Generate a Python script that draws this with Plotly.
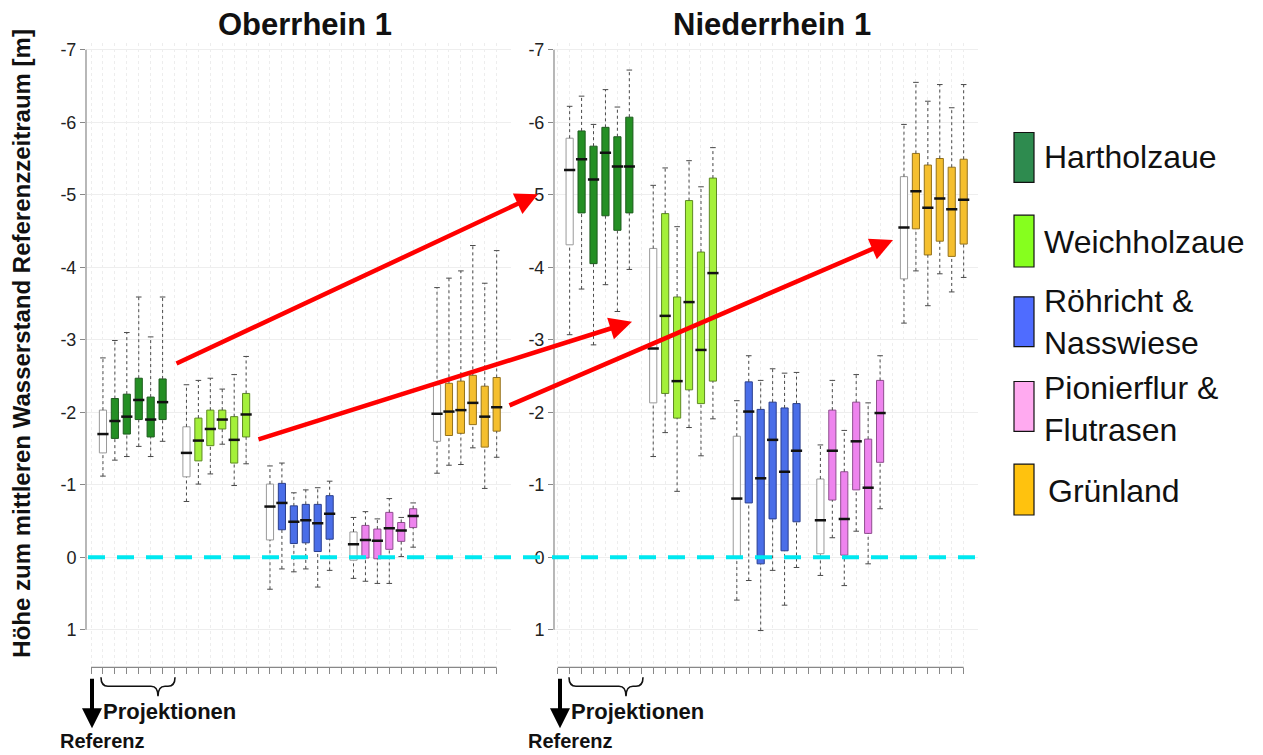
import plotly.graph_objects as go

W, H = 1263, 755
OFF = 8  # page body margin of the browser
FONT = "Liberation Sans, Arial, sans-serif"

# ---------------- DATA ----------------
# each box: [lower whisker, q1, median, q3, upper whisker]; first box of each group = Referenz
habitats = ["Hartholzaue", "Weichholzaue", "Röhricht & Nasswiese", "Pionierflur & Flutrasen", "Grünland"]
group_slots = [[1, 2, 3, 4, 5, 6], [8, 9, 10, 11, 12, 13], [15, 16, 17, 18, 19, 20],
               [22, 23, 24, 25, 26, 27], [29, 30, 31, 32, 33, 34]]

ober_hartholz = [[-1.12, -1.44, -1.70, -2.03, -2.75],
                 [-1.34, -1.64, -1.88, -2.19, -2.99],
                 [-1.39, -1.70, -1.94, -2.25, -3.10],
                 [-1.53, -1.90, -2.17, -2.47, -3.59],
                 [-1.39, -1.66, -1.90, -2.21, -3.04],
                 [-1.60, -1.90, -2.14, -2.46, -3.59]]
ober_weichholz = [[-0.77, -1.11, -1.44, -1.80, -2.38],
                  [-1.01, -1.33, -1.61, -1.92, -2.44],
                  [-1.15, -1.54, -1.77, -2.03, -2.47],
                  [-1.56, -1.77, -1.90, -2.03, -2.32],
                  [-0.99, -1.30, -1.62, -1.94, -2.52],
                  [-1.29, -1.66, -1.97, -2.26, -2.77]]
ober_roehricht = [[0.44, -0.24, -0.70, -1.01, -1.26],
                  [0.16, -0.38, -0.75, -1.02, -1.30],
                  [0.20, -0.19, -0.49, -0.71, -0.89],
                  [0.16, -0.20, -0.51, -0.73, -0.93],
                  [0.41, -0.08, -0.47, -0.73, -0.96],
                  [0.18, -0.25, -0.60, -0.85, -1.05]]
ober_pionier = [[0.29, 0.04, -0.18, -0.35, -0.55],
                [0.33, 0.01, -0.24, -0.44, -0.63],
                [0.36, 0.02, -0.23, -0.39, -0.53],
                [0.36, -0.11, -0.40, -0.62, -0.81],
                [-0.01, -0.22, -0.37, -0.48, -0.55],
                [-0.14, -0.41, -0.57, -0.67, -0.75]]
ober_gruenland = [[-1.16, -1.60, -1.98, -2.38, -3.72],
                  [-1.27, -1.68, -2.01, -2.40, -3.85],
                  [-1.28, -1.71, -2.03, -2.43, -3.95],
                  [-1.51, -1.83, -2.13, -2.51, -4.30],
                  [-0.95, -1.52, -1.94, -2.36, -3.78],
                  [-1.38, -1.74, -2.07, -2.48, -4.23]]

nieder_hartholz = [[-3.07, -4.31, -5.34, -5.78, -6.22],
                   [-3.70, -4.75, -5.49, -5.88, -6.36],
                   [-2.93, -4.05, -5.21, -5.67, -5.97],
                   [-3.76, -4.71, -5.58, -5.93, -6.45],
                   [-3.39, -4.51, -5.39, -5.80, -6.21],
                   [-3.97, -4.75, -5.39, -6.07, -6.72]]
nieder_weichholz = [[-1.39, -2.13, -2.88, -4.26, -5.13],
                    [-1.72, -2.26, -3.33, -4.74, -5.37],
                    [-0.91, -1.92, -2.43, -3.59, -4.56],
                    [-1.79, -2.31, -3.52, -4.92, -5.47],
                    [-1.40, -2.12, -2.86, -4.21, -5.11],
                    [-1.91, -2.43, -3.92, -5.23, -5.65]]
nieder_roehricht = [[0.59, 0.00, -0.81, -1.67, -2.16],
                    [0.32, -0.75, -2.01, -2.42, -2.78],
                    [1.01, 0.09, -1.09, -2.04, -2.44],
                    [0.18, -0.53, -1.62, -2.14, -2.60],
                    [0.66, -0.09, -1.18, -2.06, -2.54],
                    [0.14, -0.49, -1.47, -2.12, -2.55]]
nieder_pionier = [[0.25, -0.05, -0.51, -1.08, -1.55],
                  [-0.27, -0.79, -1.47, -2.03, -2.44],
                  [0.39, -0.03, -0.53, -1.18, -1.75],
                  [-0.36, -0.93, -1.60, -2.14, -2.52],
                  [0.09, -0.33, -0.96, -1.63, -2.13],
                  [-0.67, -1.31, -1.99, -2.44, -2.78]]
nieder_gruenland = [[-3.23, -3.84, -4.55, -5.25, -5.97],
                    [-3.95, -4.53, -5.05, -5.57, -6.55],
                    [-3.47, -4.17, -4.82, -5.41, -6.29],
                    [-3.91, -4.36, -4.95, -5.50, -6.52],
                    [-3.66, -4.15, -4.80, -5.38, -6.20],
                    [-3.86, -4.32, -4.93, -5.49, -6.52]]

panels = [("Oberrhein 1", [ober_hartholz, ober_weichholz, ober_roehricht, ober_pionier, ober_gruenland]),
          ("Niederrhein 1", [nieder_hartholz, nieder_weichholz, nieder_roehricht, nieder_pionier, nieder_gruenland])]

y_tick_vals = [-7, -6, -5, -4, -3, -2, -1, 0, 1]
y_tick_text = ["-7", "-6", "-5", "-4", "-3", "-2", "-1", "0", "1"]

# ---------------- STYLE ----------------
fill_cols = ["#248f24", "#a4f03a", "#4a6ee8", "#ee84ee", "#f5bf2e"]
line_cols = ["#1d5c1d", "#5e8a22", "#2a3f8f", "#8f4f8f", "#94721c"]
legend_cols = ["#2e8b4f", "#86ff1e", "#4f6cff", "#ffaaf0", "#ffc20e"]
ref_fill, ref_line = "#ffffff", "#9a9a9a"


def px_x(p):
    return (p - OFF) / W


def px_y(p):
    return 1 - (p - OFF) / H


y_range = [(667 - 556.5) / 72.8, (40 - 556.5) / 72.8]
axis_ids = [("x", "y"), ("x2", "y2")]
x_domains = [(86, 511), (554, 978)]
x_ranges = [[-0.42, 35.2], [-0.31, 35.2]]

fig = go.Figure()

for (title, groups), (xa, ya) in zip(panels, axis_ids):
    for gi, (slots, boxes) in enumerate(zip(group_slots, groups)):
        # dotted whiskers
        wx, wy, cx, cy = [], [], [], []
        for s, (lo, q1, med, q3, hi) in zip(slots, boxes):
            wx += [s, s, None, s, s, None]
            wy += [lo, q1, None, q3, hi, None]
            cx += [s, s]
            cy += [lo, hi]
        fig.add_trace(go.Scatter(x=wx, y=wy, mode="lines", xaxis=xa, yaxis=ya,
                                 line=dict(color="#4a4a4a", width=1, dash="dot"),
                                 showlegend=False, hoverinfo="skip"))
        fig.add_trace(go.Scatter(x=cx, y=cy, mode="markers", xaxis=xa, yaxis=ya,
                                 marker=dict(symbol="line-ew", size=4, line=dict(color="#4a4a4a", width=1)),
                                 showlegend=False, hoverinfo="skip"))
        # boxes (q1..q3): reference white, projections coloured
        fcs = [ref_fill] + [fill_cols[gi]] * (len(slots) - 1)
        lcs = [ref_line] + [line_cols[gi]] * (len(slots) - 1)
        fig.add_trace(go.Bar(x=slots, base=[b[1] for b in boxes], y=[b[3] - b[1] for b in boxes],
                             width=0.6, xaxis=xa, yaxis=ya,
                             marker=dict(color=fcs, line=dict(color=lcs, width=1)),
                             showlegend=False, hoverinfo="skip"))
        # medians
        fig.add_trace(go.Scatter(x=slots, y=[b[2] for b in boxes], mode="markers", xaxis=xa, yaxis=ya,
                                 marker=dict(symbol="line-ew", size=8, line=dict(color="#111111", width=2.5)),
                                 showlegend=False, hoverinfo="skip"))

layout = dict(
    width=W, height=H, margin=dict(l=0, r=0, t=0, b=0),
    paper_bgcolor="white", plot_bgcolor="white",
    barmode="overlay", showlegend=False,
    font=dict(family=FONT, color="#222222"),
)
for i, ((xa, ya), dom, xr) in enumerate(zip(axis_ids, x_domains, x_ranges)):
    xkey = "xaxis" if i == 0 else "xaxis2"
    ykey = "yaxis" if i == 0 else "yaxis2"
    layout[xkey] = dict(domain=[px_x(dom[0]), px_x(dom[1])], range=xr, anchor=ya,
                        tickvals=list(range(0, 35)), showticklabels=False,
                        ticks="outside", ticklen=6, tickcolor="#888888",
                        showgrid=True, gridcolor="#ededed", griddash="dot", gridwidth=1,
                        zeroline=False, showline=False, fixedrange=True)
    layout[ykey] = dict(domain=[px_y(667), px_y(40)], range=y_range, anchor=xa,
                        tickvals=y_tick_vals, ticktext=y_tick_text,
                        ticks="outside", ticklen=5, tickcolor="#888888",
                        tickfont=dict(size=18, color="#222222", family=FONT),
                        showgrid=True, gridcolor="#eeeeee", gridwidth=1,
                        zeroline=False, showline=False, fixedrange=True)
fig.update_layout(**layout)

shapes = []
# R-style axis lines
for (xa, ya) in axis_ids:
    shapes.append(dict(type="line", xref=f"{xa} domain", yref=ya, x0=0, x1=0, y0=-7, y1=1,
                       line=dict(color="#888888", width=1.2)))
    shapes.append(dict(type="line", xref=xa, yref=f"{ya} domain", x0=0, x1=34, y0=0, y1=0,
                       line=dict(color="#888888", width=1.2)))
# dashed cyan reference line at 0
shapes.append(dict(type="line", xref="paper", yref="y", x0=px_x(88), x1=px_x(976), y0=0, y1=0,
                   line=dict(color="#00e8f0", width=4, dash="17px,12px")))

# legend squares
leg_boxes = [(130, 180), (213, 265), (295, 345), (380, 430), (463, 514)]
for (t, b), c in zip(leg_boxes, legend_cols):
    shapes.append(dict(type="rect", xref="paper", yref="paper", x0=px_x(1014), x1=px_x(1034),
                       y0=px_y(b), y1=px_y(t), fillcolor=c, line=dict(color="#111111", width=1.2)))


# braces
def brace(x0, xp, x1, ytop, ymid, ytip):
    pts = [(x0, ytop), (x0, ymid), (x0 + 7, ymid), (xp - 7, ymid), (xp, ymid), (xp, ytip),
           (xp, ymid), (xp + 7, ymid), (x1 - 7, ymid), (x1, ymid), (x1, ytop)]
    P = [(px_x(a), px_y(b)) for a, b in pts]
    return (f"M {P[0][0]},{P[0][1]} Q {P[1][0]},{P[1][1]} {P[2][0]},{P[2][1]} "
            f"L {P[3][0]},{P[3][1]} Q {P[4][0]},{P[4][1]} {P[5][0]},{P[5][1]} "
            f"Q {P[6][0]},{P[6][1]} {P[7][0]},{P[7][1]} L {P[8][0]},{P[8][1]} "
            f"Q {P[9][0]},{P[9][1]} {P[10][0]},{P[10][1]}")


for off in (0, 468):
    shapes.append(dict(type="path", xref="paper", yref="paper",
                       path=brace(101 + off, 158 + off, 175 + off, 677, 686, 696),
                       line=dict(color="#111111", width=1.6)))
fig.update_layout(shapes=shapes)

ann = []


def label(x, y, text, size, xanchor="center", **kw):
    return dict(x=px_x(x), y=px_y(y), xref="paper", yref="paper", text=text, showarrow=False,
                xanchor=xanchor, yanchor="middle", font=dict(size=size, color="#111111", family=FONT), **kw)


# panel titles
ann.append(label(305, 22, "<b>Oberrhein 1</b>", 31))
ann.append(label(772, 22, "<b>Niederrhein 1</b>", 31))
# y-axis title
ann.append(label(22, 342, "<b>Höhe zum mittleren Wasserstand Referenzzeitraum [m]</b>", 24, textangle=-90))
# red arrows
for (tx, ty), (hx, hy) in [((175, 362), (538, 192)), ((257, 438), (632, 320)), ((508, 404), (893, 238))]:
    ann.append(dict(x=px_x(hx), y=px_y(hy), xref="paper", yref="paper", text="",
                    ax=tx - hx, ay=ty - hy, axref="pixel", ayref="pixel", showarrow=True,
                    arrowhead=2, arrowsize=1, arrowwidth=4.5, arrowcolor="#ff0000", standoff=0))
# Referenz / Projektionen
for off in (0, 468):
    ann.append(dict(x=px_x(92 + off), y=px_y(728), xref="paper", yref="paper", text="",
                    ax=0, ay=-51, axref="pixel", ayref="pixel", showarrow=True,
                    arrowhead=2, arrowsize=1, arrowwidth=4, arrowcolor="#000000", standoff=0))
    ann.append(label(169 + off, 711, "<b>Projektionen</b>", 22))
    ann.append(label(102 + off, 741, "<b>Referenz</b>", 20))
# legend labels
leg_text = [("Hartholzaue", 1042, 155), ("Weichholzaue", 1042, 240), ("Röhricht &amp;<br>Nasswiese", 1042, 320),
            ("Pionierflur &amp;<br>Flutrasen", 1042, 408), ("Grünland", 1046, 490)]
for t, x, y in leg_text:
    ann.append(label(x, y, t, 32, xanchor="left", align="left"))
fig.update_layout(annotations=ann)

fig.write_html("out.html")
